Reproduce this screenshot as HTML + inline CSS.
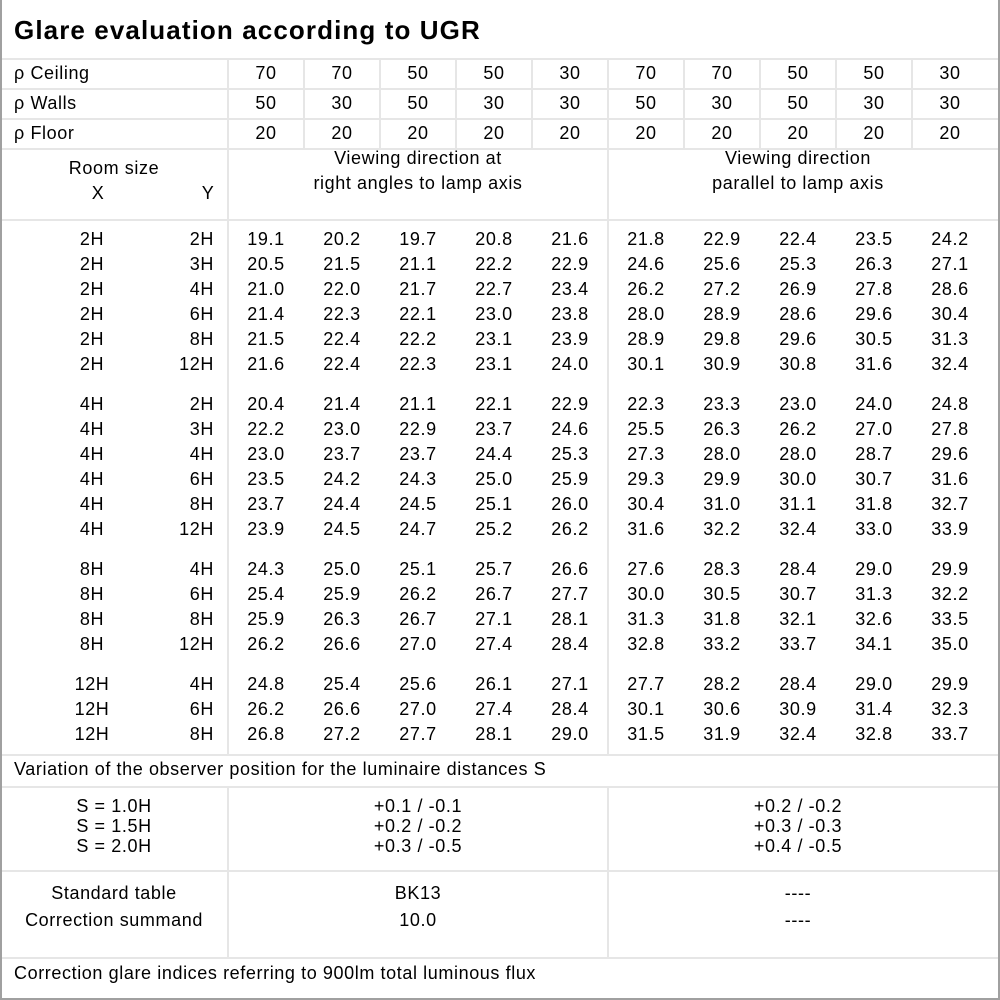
<!DOCTYPE html>
<html><head><meta charset="utf-8"><style>
body{margin:0;width:1000px;height:1000px;background:#fff;position:relative;overflow:hidden;font-family:"Liberation Sans",sans-serif;font-size:18px;letter-spacing:0.6px;color:#000}
.b{position:absolute;left:0;top:0;height:998px;border-left:2px solid #a0a0a0;border-right:2px solid #a0a0a0;border-bottom:2px solid #a0a0a0;width:996px}
.h{position:absolute;left:2px;width:996px;height:2px;background:#e6e6e6}
.v{position:absolute;width:2px;background:#e6e6e6}
.t{position:absolute;white-space:nowrap;line-height:25px}
.r{position:absolute;left:0;width:1000px;height:25px;line-height:25px}
.r span{position:absolute;top:0;text-align:center;width:76px}
.r .x{left:0;width:184px}
.r .y{left:140px;width:74px;text-align:right}
.c{position:absolute;text-align:center;line-height:25px;white-space:nowrap}
</style></head><body>
<div class="b"></div>
<div class="t" style="left:14px;top:14px;font-size:26px;letter-spacing:1.1px;font-weight:bold;line-height:32px">Glare evaluation according to UGR</div>
<div class="h" style="top:58px"></div>
<div class="h" style="top:88px"></div>
<div class="h" style="top:118px"></div>
<div class="h" style="top:148px"></div>
<div class="h" style="top:219px"></div>
<div class="h" style="top:754px"></div>
<div class="h" style="top:786px"></div>
<div class="h" style="top:870px"></div>
<div class="h" style="top:957px"></div>
<div class="v" style="left:227px;top:59px;height:696px"></div>
<div class="v" style="left:227px;top:787px;height:171px"></div>
<div class="v" style="left:607px;top:149px;height:606px"></div>
<div class="v" style="left:607px;top:787px;height:171px"></div>
<div class="v" style="left:303px;top:59px;height:90px"></div>
<div class="v" style="left:379px;top:59px;height:90px"></div>
<div class="v" style="left:455px;top:59px;height:90px"></div>
<div class="v" style="left:531px;top:59px;height:90px"></div>
<div class="v" style="left:607px;top:59px;height:90px"></div>
<div class="v" style="left:683px;top:59px;height:90px"></div>
<div class="v" style="left:759px;top:59px;height:90px"></div>
<div class="v" style="left:835px;top:59px;height:90px"></div>
<div class="v" style="left:911px;top:59px;height:90px"></div>

<div class="t" style="left:14px;top:61px">ρ Ceiling</div>
<div class="t" style="left:14px;top:91px">ρ Walls</div>
<div class="t" style="left:14px;top:121px">ρ Floor</div>
<div class="r" style="top:61px"><span style="left:228px">70</span><span style="left:304px">70</span><span style="left:380px">50</span><span style="left:456px">50</span><span style="left:532px">30</span><span style="left:608px">70</span><span style="left:684px">70</span><span style="left:760px">50</span><span style="left:836px">50</span><span style="left:912px">30</span></div>
<div class="r" style="top:91px"><span style="left:228px">50</span><span style="left:304px">30</span><span style="left:380px">50</span><span style="left:456px">30</span><span style="left:532px">30</span><span style="left:608px">50</span><span style="left:684px">30</span><span style="left:760px">50</span><span style="left:836px">30</span><span style="left:912px">30</span></div>
<div class="r" style="top:121px"><span style="left:228px">20</span><span style="left:304px">20</span><span style="left:380px">20</span><span style="left:456px">20</span><span style="left:532px">20</span><span style="left:608px">20</span><span style="left:684px">20</span><span style="left:760px">20</span><span style="left:836px">20</span><span style="left:912px">20</span></div>

<div class="c" style="left:0;width:228px;top:156px">Room size</div>
<div class="c" style="left:60px;width:76px;top:181px">X</div>
<div class="c" style="left:170px;width:76px;top:181px">Y</div>
<div class="c" style="left:228px;width:380px;top:146px">Viewing direction at<br>right angles to lamp axis</div>
<div class="c" style="left:608px;width:380px;top:146px">Viewing direction<br>parallel to lamp axis</div>

<div class="r" style="top:227px"><span class="x">2H</span><span class="y">2H</span><span style="left:228px">19.1</span><span style="left:304px">20.2</span><span style="left:380px">19.7</span><span style="left:456px">20.8</span><span style="left:532px">21.6</span><span style="left:608px">21.8</span><span style="left:684px">22.9</span><span style="left:760px">22.4</span><span style="left:836px">23.5</span><span style="left:912px">24.2</span></div>
<div class="r" style="top:252px"><span class="x">2H</span><span class="y">3H</span><span style="left:228px">20.5</span><span style="left:304px">21.5</span><span style="left:380px">21.1</span><span style="left:456px">22.2</span><span style="left:532px">22.9</span><span style="left:608px">24.6</span><span style="left:684px">25.6</span><span style="left:760px">25.3</span><span style="left:836px">26.3</span><span style="left:912px">27.1</span></div>
<div class="r" style="top:277px"><span class="x">2H</span><span class="y">4H</span><span style="left:228px">21.0</span><span style="left:304px">22.0</span><span style="left:380px">21.7</span><span style="left:456px">22.7</span><span style="left:532px">23.4</span><span style="left:608px">26.2</span><span style="left:684px">27.2</span><span style="left:760px">26.9</span><span style="left:836px">27.8</span><span style="left:912px">28.6</span></div>
<div class="r" style="top:302px"><span class="x">2H</span><span class="y">6H</span><span style="left:228px">21.4</span><span style="left:304px">22.3</span><span style="left:380px">22.1</span><span style="left:456px">23.0</span><span style="left:532px">23.8</span><span style="left:608px">28.0</span><span style="left:684px">28.9</span><span style="left:760px">28.6</span><span style="left:836px">29.6</span><span style="left:912px">30.4</span></div>
<div class="r" style="top:327px"><span class="x">2H</span><span class="y">8H</span><span style="left:228px">21.5</span><span style="left:304px">22.4</span><span style="left:380px">22.2</span><span style="left:456px">23.1</span><span style="left:532px">23.9</span><span style="left:608px">28.9</span><span style="left:684px">29.8</span><span style="left:760px">29.6</span><span style="left:836px">30.5</span><span style="left:912px">31.3</span></div>
<div class="r" style="top:352px"><span class="x">2H</span><span class="y">12H</span><span style="left:228px">21.6</span><span style="left:304px">22.4</span><span style="left:380px">22.3</span><span style="left:456px">23.1</span><span style="left:532px">24.0</span><span style="left:608px">30.1</span><span style="left:684px">30.9</span><span style="left:760px">30.8</span><span style="left:836px">31.6</span><span style="left:912px">32.4</span></div>

<div class="r" style="top:392px"><span class="x">4H</span><span class="y">2H</span><span style="left:228px">20.4</span><span style="left:304px">21.4</span><span style="left:380px">21.1</span><span style="left:456px">22.1</span><span style="left:532px">22.9</span><span style="left:608px">22.3</span><span style="left:684px">23.3</span><span style="left:760px">23.0</span><span style="left:836px">24.0</span><span style="left:912px">24.8</span></div>
<div class="r" style="top:417px"><span class="x">4H</span><span class="y">3H</span><span style="left:228px">22.2</span><span style="left:304px">23.0</span><span style="left:380px">22.9</span><span style="left:456px">23.7</span><span style="left:532px">24.6</span><span style="left:608px">25.5</span><span style="left:684px">26.3</span><span style="left:760px">26.2</span><span style="left:836px">27.0</span><span style="left:912px">27.8</span></div>
<div class="r" style="top:442px"><span class="x">4H</span><span class="y">4H</span><span style="left:228px">23.0</span><span style="left:304px">23.7</span><span style="left:380px">23.7</span><span style="left:456px">24.4</span><span style="left:532px">25.3</span><span style="left:608px">27.3</span><span style="left:684px">28.0</span><span style="left:760px">28.0</span><span style="left:836px">28.7</span><span style="left:912px">29.6</span></div>
<div class="r" style="top:467px"><span class="x">4H</span><span class="y">6H</span><span style="left:228px">23.5</span><span style="left:304px">24.2</span><span style="left:380px">24.3</span><span style="left:456px">25.0</span><span style="left:532px">25.9</span><span style="left:608px">29.3</span><span style="left:684px">29.9</span><span style="left:760px">30.0</span><span style="left:836px">30.7</span><span style="left:912px">31.6</span></div>
<div class="r" style="top:492px"><span class="x">4H</span><span class="y">8H</span><span style="left:228px">23.7</span><span style="left:304px">24.4</span><span style="left:380px">24.5</span><span style="left:456px">25.1</span><span style="left:532px">26.0</span><span style="left:608px">30.4</span><span style="left:684px">31.0</span><span style="left:760px">31.1</span><span style="left:836px">31.8</span><span style="left:912px">32.7</span></div>
<div class="r" style="top:517px"><span class="x">4H</span><span class="y">12H</span><span style="left:228px">23.9</span><span style="left:304px">24.5</span><span style="left:380px">24.7</span><span style="left:456px">25.2</span><span style="left:532px">26.2</span><span style="left:608px">31.6</span><span style="left:684px">32.2</span><span style="left:760px">32.4</span><span style="left:836px">33.0</span><span style="left:912px">33.9</span></div>

<div class="r" style="top:557px"><span class="x">8H</span><span class="y">4H</span><span style="left:228px">24.3</span><span style="left:304px">25.0</span><span style="left:380px">25.1</span><span style="left:456px">25.7</span><span style="left:532px">26.6</span><span style="left:608px">27.6</span><span style="left:684px">28.3</span><span style="left:760px">28.4</span><span style="left:836px">29.0</span><span style="left:912px">29.9</span></div>
<div class="r" style="top:582px"><span class="x">8H</span><span class="y">6H</span><span style="left:228px">25.4</span><span style="left:304px">25.9</span><span style="left:380px">26.2</span><span style="left:456px">26.7</span><span style="left:532px">27.7</span><span style="left:608px">30.0</span><span style="left:684px">30.5</span><span style="left:760px">30.7</span><span style="left:836px">31.3</span><span style="left:912px">32.2</span></div>
<div class="r" style="top:607px"><span class="x">8H</span><span class="y">8H</span><span style="left:228px">25.9</span><span style="left:304px">26.3</span><span style="left:380px">26.7</span><span style="left:456px">27.1</span><span style="left:532px">28.1</span><span style="left:608px">31.3</span><span style="left:684px">31.8</span><span style="left:760px">32.1</span><span style="left:836px">32.6</span><span style="left:912px">33.5</span></div>
<div class="r" style="top:632px"><span class="x">8H</span><span class="y">12H</span><span style="left:228px">26.2</span><span style="left:304px">26.6</span><span style="left:380px">27.0</span><span style="left:456px">27.4</span><span style="left:532px">28.4</span><span style="left:608px">32.8</span><span style="left:684px">33.2</span><span style="left:760px">33.7</span><span style="left:836px">34.1</span><span style="left:912px">35.0</span></div>

<div class="r" style="top:672px"><span class="x">12H</span><span class="y">4H</span><span style="left:228px">24.8</span><span style="left:304px">25.4</span><span style="left:380px">25.6</span><span style="left:456px">26.1</span><span style="left:532px">27.1</span><span style="left:608px">27.7</span><span style="left:684px">28.2</span><span style="left:760px">28.4</span><span style="left:836px">29.0</span><span style="left:912px">29.9</span></div>
<div class="r" style="top:697px"><span class="x">12H</span><span class="y">6H</span><span style="left:228px">26.2</span><span style="left:304px">26.6</span><span style="left:380px">27.0</span><span style="left:456px">27.4</span><span style="left:532px">28.4</span><span style="left:608px">30.1</span><span style="left:684px">30.6</span><span style="left:760px">30.9</span><span style="left:836px">31.4</span><span style="left:912px">32.3</span></div>
<div class="r" style="top:722px"><span class="x">12H</span><span class="y">8H</span><span style="left:228px">26.8</span><span style="left:304px">27.2</span><span style="left:380px">27.7</span><span style="left:456px">28.1</span><span style="left:532px">29.0</span><span style="left:608px">31.5</span><span style="left:684px">31.9</span><span style="left:760px">32.4</span><span style="left:836px">32.8</span><span style="left:912px">33.7</span></div>

<div class="t" style="left:14px;top:757px">Variation of the observer position for the luminaire distances S</div>
<div class="c" style="left:0;width:228px;top:796px;line-height:20px">S = 1.0H<br>S = 1.5H<br>S = 2.0H</div>
<div class="c" style="left:228px;width:380px;top:796px;line-height:20px">+0.1 / -0.1<br>+0.2 / -0.2<br>+0.3 / -0.5</div>
<div class="c" style="left:608px;width:380px;top:796px;line-height:20px">+0.2 / -0.2<br>+0.3 / -0.3<br>+0.4 / -0.5</div>
<div class="c" style="left:0;width:228px;top:880px;line-height:27px">Standard table<br>Correction summand</div>
<div class="c" style="left:228px;width:380px;top:880px;line-height:27px">BK13<br>10.0</div>
<div class="c" style="left:608px;width:380px;top:880px;line-height:27px">----<br>----</div>
<div class="t" style="left:14px;top:961px">Correction glare indices referring to 900lm total luminous flux</div>
</body></html>
